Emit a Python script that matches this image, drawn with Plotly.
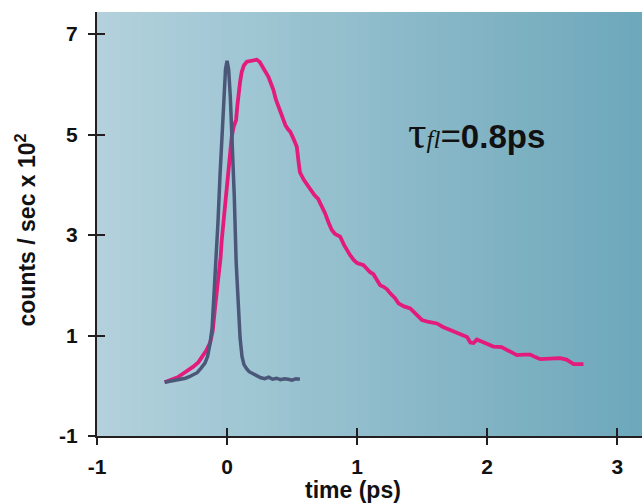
import plotly.graph_objects as go

# instrument response (dark line)
irf_t = [-0.48, -0.44, -0.40, -0.36, -0.32, -0.29, -0.26, -0.23, -0.20, -0.17,
         -0.15, -0.13, -0.115, -0.10, -0.085, -0.07, -0.055, -0.04, -0.025, -0.012,
         0.0, 0.012, 0.025, 0.04, 0.055, 0.07, 0.085, 0.10, 0.115, 0.13,
         0.15, 0.17, 0.20, 0.23, 0.26, 0.29, 0.32, 0.35, 0.38, 0.41,
         0.44, 0.47, 0.50, 0.53, 0.56]
irf_counts = [0.07, 0.09, 0.10, 0.12, 0.15, 0.18, 0.22, 0.26, 0.35, 0.45,
              0.58, 0.85, 1.15, 1.80, 2.55, 3.25, 4.15, 5.00, 5.80, 6.30,
              6.47, 6.30, 5.75, 4.90, 3.80, 2.45, 1.50, 0.95, 0.58, 0.42,
              0.34, 0.28, 0.24, 0.19, 0.16, 0.14, 0.17, 0.13, 0.15, 0.12,
              0.14, 0.13, 0.11, 0.14, 0.13]

# fluorescence decay (magenta line)
fl_t = [-0.48, -0.43, -0.38, -0.34, -0.30, -0.26, -0.22, -0.19, -0.16, -0.13,
        -0.11, -0.092, -0.08, -0.067, -0.058, -0.05, -0.041, -0.03, -0.02, -0.01,
        0.0, 0.015, 0.025, 0.036, 0.05, 0.069, 0.08, 0.09, 0.10, 0.113,
        0.13, 0.152, 0.19, 0.228, 0.25, 0.267, 0.29, 0.318, 0.34, 0.356,
        0.375, 0.395, 0.415, 0.433, 0.45, 0.47, 0.485, 0.51, 0.536, 0.55,
        0.56, 0.59, 0.615, 0.638, 0.67, 0.70, 0.715, 0.735, 0.754, 0.78,
        0.805, 0.83, 0.869, 0.90, 0.92, 0.946, 0.975, 1.00, 1.049, 1.10,
        1.125, 1.15, 1.177, 1.203, 1.23, 1.254, 1.29, 1.318, 1.36, 1.408,
        1.45, 1.498, 1.55, 1.613, 1.66, 1.715, 1.77, 1.818, 1.845, 1.87,
        1.895, 1.92, 1.96, 2.00, 2.048, 2.11, 2.17, 2.228, 2.28, 2.33,
        2.37, 2.408, 2.48, 2.56, 2.61, 2.638, 2.664, 2.70, 2.74]
fl_counts = [0.07, 0.12, 0.17, 0.24, 0.30, 0.38, 0.47, 0.58, 0.70, 0.86,
             1.10, 1.57, 1.85, 2.10, 2.45, 2.55, 2.90, 3.20, 3.40, 3.55,
             3.90, 4.43, 4.65, 4.96, 5.15, 5.29, 5.60, 5.92, 6.05, 6.25,
             6.38, 6.45, 6.47, 6.49, 6.45, 6.38, 6.28, 6.15, 6.00, 5.89,
             5.70, 5.55, 5.42, 5.30, 5.18, 5.10, 5.06, 4.92, 4.76, 4.45,
             4.25, 4.10, 4.00, 3.90, 3.80, 3.72, 3.65, 3.52, 3.43, 3.25,
             3.10, 3.02, 2.97, 2.80, 2.70, 2.60, 2.50, 2.44, 2.40, 2.26,
             2.22, 2.12, 2.00, 1.97, 1.92, 1.84, 1.75, 1.64, 1.58, 1.54,
             1.42, 1.31, 1.27, 1.24, 1.17, 1.11, 1.06, 1.01, 0.97, 0.86,
             0.85, 0.92, 0.87, 0.83, 0.78, 0.77, 0.69, 0.61, 0.62, 0.62,
             0.57, 0.53, 0.54, 0.55, 0.52, 0.48, 0.43, 0.43, 0.43]

x_ticks = [-1, 0, 1, 2, 3]
x_labels = ["-1", "0", "1", "2", "3"]
y_ticks = [-1, 1, 3, 5, 7]
y_labels = ["-1", "1", "3", "5", "7"]

X_RANGE = [-1, 3.19]
Y_RANGE = [-1, 7.44]
AXIS_COLOR = "#231f20"
TICK_FONT = dict(family="Liberation Sans", size=21, color="#111", weight="bold")
TITLE_FONT = dict(family="Liberation Sans", size=23, color="#111", weight="bold")

fig = go.Figure()

fig.add_trace(go.Scatter(x=fl_t, y=fl_counts, mode="lines",
                         line=dict(color="#e31b7b", width=3.8), showlegend=False))
fig.add_trace(go.Scatter(x=irf_t, y=irf_counts, mode="lines",
                         line=dict(color="#4a5779", width=3.5), showlegend=False))
# empty trace so the overlay axes (inner half of the ticks) get drawn
fig.add_trace(go.Scatter(x=[], y=[], xaxis="x2", yaxis="y2", showlegend=False))

# horizontal background gradient, light on the left to teal on the right
left_rgb = (178, 209, 220)
right_rgb = (110, 168, 187)
n_strips = 48
shapes = []
for i in range(n_strips):
    f = i / (n_strips - 1)
    c = tuple(round(a + (b - a) * f) for a, b in zip(left_rgb, right_rgb))
    shapes.append(dict(type="rect", xref="x domain", yref="y domain",
                       x0=i / n_strips, x1=(i + 1) / n_strips + 0.002, y0=0, y1=1,
                       fillcolor="rgb(%d,%d,%d)" % c, line=dict(width=0),
                       layer="below"))

fig.update_layout(
    width=642, height=503,
    margin=dict(l=97, r=0, t=12, b=67),
    paper_bgcolor="white",
    plot_bgcolor="rgb(145,190,205)",
    shapes=shapes,
    xaxis=dict(range=X_RANGE, tickvals=x_ticks, ticktext=x_labels,
               showgrid=False, zeroline=False, showline=True,
               linecolor=AXIS_COLOR, linewidth=2,
               ticks="outside", ticklen=7, tickwidth=2, tickcolor=AXIS_COLOR,
               ticklabelstandoff=4, tickfont=TICK_FONT),
    yaxis=dict(range=Y_RANGE, tickvals=y_ticks, ticktext=y_labels,
               showgrid=False, zeroline=False, showline=True,
               linecolor=AXIS_COLOR, linewidth=2,
               ticks="outside", ticklen=7, tickwidth=2, tickcolor=AXIS_COLOR,
               ticklabelstandoff=6, tickfont=TICK_FONT),
    xaxis2=dict(range=X_RANGE, overlaying="x", anchor="y", side="bottom",
                tickvals=x_ticks, showticklabels=False, showgrid=False,
                zeroline=False, showline=False,
                ticks="inside", ticklen=8, tickwidth=2, tickcolor=AXIS_COLOR),
    yaxis2=dict(range=Y_RANGE, overlaying="y", anchor="x", side="left",
                tickvals=y_ticks, showticklabels=False, showgrid=False,
                zeroline=False, showline=False,
                ticks="inside", ticklen=8, tickwidth=2, tickcolor=AXIS_COLOR),
    annotations=[
        dict(text="time (ps)", xref="paper", yref="paper", x=0.47, y=-0.128,
             xanchor="center", yanchor="middle", showarrow=False, font=TITLE_FONT),
        dict(text="counts / sec x 10<sup>2</sup>", xref="paper", yref="paper",
             x=-0.13, y=0.485, textangle=-90, xanchor="center", yanchor="middle",
             showarrow=False, font=TITLE_FONT),
        dict(text=('<span style="font-family:Liberation Serif;font-weight:normal;'
                   'font-size:46px">τ</span>'
                   '<span style="font-family:Liberation Serif;font-style:italic;'
                   'font-weight:normal;font-size:25px">fl</span>'
                   '<span style="font-weight:normal;font-size:35px">=</span>0.8ps'),
             xref="x", yref="y", x=1.92, y=5.05, xanchor="center", yanchor="middle",
             showarrow=False,
             font=dict(family="Liberation Sans", size=33, color="#111", weight="bold")),
    ],
)

# the page body has an 8px default margin; drop it so the figure sits at 0,0
fig.write_html("out.html", config={"displayModeBar": False},
               post_script="document.body.style.margin='0';")
